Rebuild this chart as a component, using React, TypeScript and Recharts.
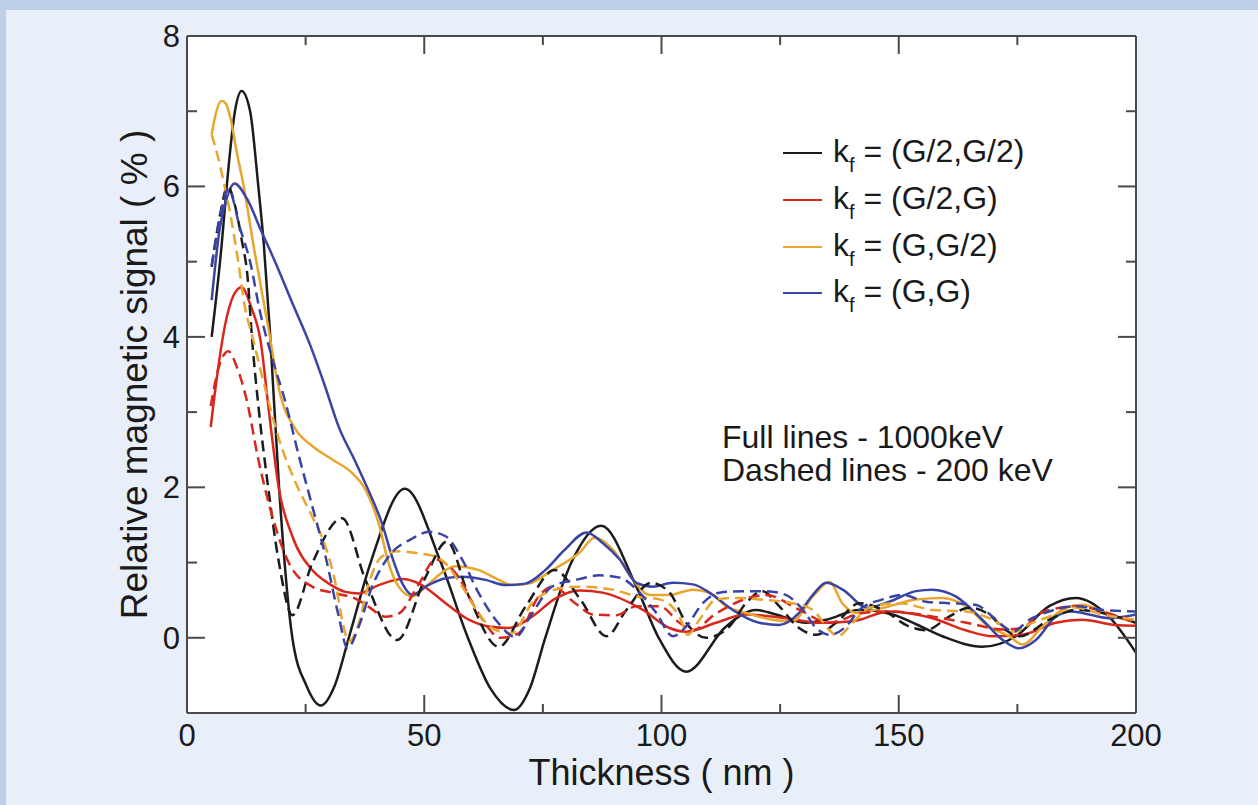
import { LineChart, Line, XAxis, YAxis, CartesianGrid, Legend } from "recharts";

// tick positions
const xTicks = [0, 25, 50, 75, 100, 125, 150, 175, 200];
const yTicks = [0, 1, 2, 3, 4, 5, 6, 7, 8];

// k_f = (G/2,G/2)
const blackFullX = [5.2, 7.3, 8.4, 10.1, 11.5, 13.3, 15.0, 16.2, 17.5, 19.4, 22.2, 25.2, 28.2, 31.1, 34.1, 38.7, 45.9, 53.5, 59.2, 64.0, 68.9, 72.2, 75.5, 81.0, 87.3, 94.7, 99.4, 105.2, 113.6, 119.9, 124.1, 130.5, 134.7, 141.7, 148.7, 154.0, 159.2, 167.6, 174.7, 181.7, 187.3, 194.3, 200];
const blackFullY = [4.0, 5.22, 6.02, 7.0, 7.27, 7.0, 6.02, 5.22, 4.05, 2.0, 0.0, -0.64, -0.9, -0.64, 0.0, 1.0, 1.98, 1.0, 0.0, -0.68, -0.96, -0.68, 0.0, 1.0, 1.49, 0.68, 0.0, -0.45, 0.15, 0.37, 0.31, 0.2, 0.24, 0.37, 0.31, 0.17, 0.02, -0.12, 0.02, 0.42, 0.53, 0.28, -0.2];
const blackDashX = [5.2, 6.9, 8.6, 10.1, 11.5, 12.9, 13.5, 15.2, 16.9, 19.4, 22.2, 26.4, 32.7, 37.6, 44.3, 50.3, 54.8, 59.4, 65.7, 71.3, 77.5, 83.0, 88.4, 92.6, 97.8, 101.7, 105.2, 109.4, 114.3, 117.8, 121.3, 124.8, 129.0, 132.6, 136.8, 141.7, 146.6, 152.2, 155.7, 160.6, 164.8, 169.0, 172.6, 175.5, 181.7, 187.3, 192.9, 200];
const blackDashY = [4.93, 5.6, 6.0, 5.75, 5.3, 4.7, 4.15, 2.99, 2.1, 0.99, 0.3, 0.99, 1.59, 0.77, -0.03, 0.81, 1.28, 0.55, -0.12, 0.41, 0.9, 0.5, 0.02, 0.37, 0.73, 0.6, 0.2, 0.0, 0.15, 0.46, 0.62, 0.42, 0.13, 0.04, 0.2, 0.46, 0.37, 0.15, 0.1, 0.28, 0.4, 0.31, 0.1, 0.02, 0.24, 0.37, 0.33, 0.2];

// k_f = (G/2,G)
const redFullX = [5.0, 6.25, 8.0, 9.8, 11.5, 13.5, 15.5, 17.3, 19.4, 22.2, 26.4, 29.9, 33.4, 36.2, 40.4, 45.4, 48.9, 54.5, 59.4, 63.6, 67.8, 72.7, 77.6, 82.7, 87.6, 96.1, 101.7, 105.2, 111.5, 117.8, 126.2, 133.3, 140.3, 148.0, 157.1, 164.1, 169.8, 176.1, 183.1, 188.7, 195.7, 200];
const redFullY = [2.8, 3.44, 4.15, 4.55, 4.66, 4.4, 3.95, 2.99, 1.97, 1.35, 0.9, 0.72, 0.61, 0.59, 0.7, 0.78, 0.72, 0.46, 0.24, 0.15, 0.13, 0.28, 0.52, 0.63, 0.6, 0.37, 0.13, 0.08, 0.2, 0.31, 0.26, 0.2, 0.22, 0.35, 0.26, 0.1, 0.02, 0.04, 0.2, 0.24, 0.17, 0.16];
const redDashX = [5.0, 6.5, 8.7, 10.5, 12.4, 15.2, 18.0, 21.5, 26.4, 31.3, 35.5, 38.3, 41.8, 44.6, 48.9, 52.4, 56.6, 61.5, 66.0, 69.9, 74.1, 77.0, 82.0, 85.5, 90.5, 94.7, 99.6, 103.8, 106.6, 111.0, 117.4, 122.0, 129.1, 135.3, 142.4, 148.6, 156.4, 164.3, 172.1, 176.0, 179.9, 187.7, 194.0, 200];
const redDashY = [3.08, 3.55, 3.81, 3.6, 3.21, 2.32, 1.61, 0.99, 0.68, 0.59, 0.52, 0.41, 0.28, 0.32, 0.72, 1.04, 0.86, 0.32, 0.0, 0.06, 0.55, 0.68, 0.45, 0.31, 0.3, 0.42, 0.42, 0.2, 0.1, 0.3, 0.51, 0.57, 0.37, 0.2, 0.33, 0.35, 0.29, 0.2, 0.11, 0.13, 0.33, 0.42, 0.33, 0.2];

// k_f = (G,G/2)
const orangeFullX = [5.2, 6.0, 7.3, 8.2, 9.2, 10.5, 11.9, 14.0, 17.2, 19.4, 22.9, 26.4, 30.6, 34.8, 37.6, 40.4, 42.5, 44.6, 47.5, 51.0, 54.5, 56.6, 61.5, 65.7, 68.5, 72.0, 77.0, 82.7, 85.9, 89.8, 94.0, 97.5, 101.7, 106.6, 110.1, 113.6, 117.8, 123.4, 127.6, 131.9, 135.4, 138.2, 141.0, 148.0, 153.6, 159.2, 164.1, 169.0, 173.3, 176.1, 180.3, 185.2, 188.7, 194.3, 200];
const orangeFullY = [6.69, 6.95, 7.14, 7.1, 6.9, 6.45, 6.02, 5.22, 4.1, 3.3, 2.77, 2.55, 2.37, 2.19, 1.97, 1.52, 0.99, 0.68, 0.55, 0.72, 0.9, 0.95, 0.9, 0.77, 0.7, 0.72, 0.9, 1.13, 1.33, 1.17, 0.77, 0.57, 0.57, 0.64, 0.6, 0.42, 0.33, 0.24, 0.22, 0.55, 0.74, 0.45, 0.33, 0.42, 0.51, 0.53, 0.42, 0.15, 0.02, -0.09, 0.15, 0.4, 0.44, 0.31, 0.2];
const orangeDashX = [5.2, 6.5, 7.6, 9.05, 10.8, 12.2, 13.8, 16.9, 19.4, 22.9, 26.4, 29.2, 31.3, 32.7, 34.1, 36.2, 38.3, 41.1, 44.6, 48.9, 52.4, 54.5, 58.0, 61.5, 64.5, 68.5, 72.7, 77.6, 82.5, 89.8, 94.7, 99.6, 103.8, 105.5, 108.0, 111.5, 115.7, 120.6, 127.6, 131.9, 135.4, 137.1, 140.3, 143.8, 150.1, 157.1, 164.1, 169.8, 174.5, 177.5, 181.7, 187.3, 192.9, 200];
const orangeDashY = [6.69, 6.4, 6.1, 5.66, 5.0, 4.4, 4.0, 3.21, 2.64, 2.06, 1.61, 1.21, 0.72, 0.24, -0.05, 0.19, 0.72, 1.08, 1.15, 1.12, 1.08, 0.99, 0.68, 0.32, 0.12, 0.06, 0.46, 0.64, 0.68, 0.64, 0.55, 0.51, 0.28, 0.04, 0.24, 0.51, 0.53, 0.51, 0.46, 0.37, 0.1, 0.02, 0.2, 0.4, 0.46, 0.37, 0.35, 0.24, 0.08, 0.18, 0.28, 0.4, 0.31, 0.24];

// k_f = (G,G)
const blueFullX = [5.2, 6.9, 8.35, 10.0, 12.6, 15.7, 18.9, 22.4, 25.9, 29.0, 32.0, 35.5, 38.3, 41.1, 43.2, 45.4, 47.5, 50.3, 54.5, 58.0, 62.9, 67.1, 71.3, 75.5, 79.6, 84.2, 87.6, 91.2, 94.7, 98.2, 102.4, 106.6, 110.8, 115.0, 120.6, 124.8, 129.0, 131.9, 134.7, 138.2, 143.3, 148.0, 153.6, 157.1, 162.0, 167.6, 171.9, 175.4, 178.9, 183.1, 186.5, 190.1, 194.3, 200];
const blueFullY = [4.49, 5.44, 5.84, 6.04, 5.84, 5.4, 4.95, 4.42, 3.9, 3.36, 2.8, 2.34, 1.95, 1.52, 1.08, 0.72, 0.57, 0.68, 0.79, 0.81, 0.77, 0.7, 0.72, 0.9, 1.17, 1.4, 1.26, 1.04, 0.73, 0.68, 0.73, 0.71, 0.57, 0.37, 0.2, 0.17, 0.33, 0.57, 0.73, 0.64, 0.4, 0.48, 0.62, 0.64, 0.55, 0.24, -0.03, -0.14, -0.03, 0.28, 0.35, 0.31, 0.26, 0.31];
const blueDashX = [5.2, 6.9, 8.7, 11.2, 13.3, 15.4, 17.8, 20.8, 23.6, 26.4, 29.2, 32.0, 33.8, 36.2, 39.0, 42.5, 47.5, 51.0, 54.5, 58.0, 61.5, 65.7, 69.2, 72.7, 76.9, 82.6, 86.9, 91.2, 95.4, 98.9, 102.4, 105.2, 108.7, 112.2, 117.1, 122.0, 126.2, 129.8, 132.6, 135.4, 138.9, 141.7, 146.6, 150.8, 155.7, 160.6, 166.2, 169.8, 172.6, 174.0, 177.5, 181.7, 187.3, 192.9, 200];
const blueDashY = [4.95, 5.57, 5.97, 5.44, 5.0, 4.33, 3.75, 3.12, 2.41, 1.75, 1.08, 0.28, -0.14, 0.15, 0.68, 1.08, 1.32, 1.41, 1.35, 1.04, 0.59, 0.19, 0.01, 0.32, 0.68, 0.78, 0.83, 0.8, 0.6, 0.33, 0.02, 0.15, 0.46, 0.6, 0.62, 0.62, 0.57, 0.37, 0.13, 0.04, 0.15, 0.37, 0.51, 0.57, 0.48, 0.46, 0.44, 0.28, 0.13, 0.08, 0.24, 0.35, 0.42, 0.37, 0.35];

const INK = "#1a1a1a";
const AXIS = "#4a4a4a";
const BLACK = "#1c1c1c";
const RED = "#d8271d";
const ORANGE = "#e9a62e";
const BLUE = "#3a44a6";
const DASH = "11 6";

const toPoints = (xs: number[], ys: number[]) => xs.map((x, i) => ({ x, y: ys[i] }));

const solidSeries = [
    { name: "(G/2,G/2)", color: BLACK, data: toPoints(blackFullX, blackFullY) },
    { name: "(G/2,G)", color: RED, data: toPoints(redFullX, redFullY) },
    { name: "(G,G/2)", color: ORANGE, data: toPoints(orangeFullX, orangeFullY) },
    { name: "(G,G)", color: BLUE, data: toPoints(blueFullX, blueFullY) },
];
const legendNames = solidSeries.map((s) => s.name);

const dashedSeries = [
    { name: "(G/2,G/2) 200 keV", color: BLACK, data: toPoints(blackDashX, blackDashY) },
    { name: "(G/2,G) 200 keV", color: RED, data: toPoints(redDashX, redDashY) },
    { name: "(G,G/2) 200 keV", color: ORANGE, data: toPoints(orangeDashX, orangeDashY) },
    { name: "(G,G) 200 keV", color: BLUE, data: toPoints(blueDashX, blueDashY) },
];

function BottomTick({ x, y, payload }: any) {
    const major = payload.value % 50 === 0;
    return (
        <g>
            <line x1={x} y1={y} x2={x} y2={y - (major ? 18 : 9)} stroke={AXIS} strokeWidth={2} />
            {major && (
                <text x={x} y={y + 33} textAnchor="middle" fontSize={31} fill={INK}>
                    {payload.value}
                </text>
            )}
        </g>
    );
}

function TopTick({ x, y, payload }: any) {
    const major = payload.value % 50 === 0;
    return <line x1={x} y1={y} x2={x} y2={y + (major ? 18 : 9)} stroke={AXIS} strokeWidth={2} />;
}

function LeftTick({ x, y, payload }: any) {
    const major = payload.value % 2 === 0;
    return (
        <g>
            <line x1={x} y1={y} x2={x + (major ? 18 : 10)} y2={y} stroke={AXIS} strokeWidth={2} />
            {major && (
                <text x={x - 7} y={y + 11} textAnchor="end" fontSize={31} fill={INK}>
                    {payload.value}
                </text>
            )}
        </g>
    );
}

function RightTick({ x, y, payload }: any) {
    const major = payload.value % 2 === 0;
    return <line x1={x} y1={y} x2={x - (major ? 18 : 10)} y2={y} stroke={AXIS} strokeWidth={2} />;
}

function LegendBox({ payload }: any) {
    // only the full-line series, in the order of the reference legend
    const rows = (payload || [])
        .filter((e: any) => legendNames.includes(e.value))
        .sort((a: any, b: any) => legendNames.indexOf(a.value) - legendNames.indexOf(b.value));
    return (
        <div style={{ fontSize: 32, color: INK, textAlign: "left" }}>
            {rows.map((entry: any) => (
                <div key={entry.value} style={{ display: "flex", alignItems: "center", justifyContent: "flex-start", height: 46.7 }}>
                    <svg width={39} height={4} style={{ display: "block" }}>
                        <line x1={0} y1={2} x2={39} y2={2} stroke={entry.color} strokeWidth={2} />
                    </svg>
                    <span style={{ marginLeft: 11, whiteSpace: "nowrap", lineHeight: "46px" }}>
                        k<span style={{ fontSize: 20, position: "relative", top: 10 }}>f</span> = {entry.value}
                    </span>
                </div>
            ))}
        </div>
    );
}

export default function App() {
    const axisLine = { stroke: AXIS, strokeWidth: 2 };
    return (
        <div
            style={{
                position: "absolute",
                left: 0,
                top: 0,
                width: 1258,
                height: 805,
                background: "#e8eff9",
                fontFamily: '"Liberation Sans", Arial, Helvetica, sans-serif',
                overflow: "hidden",
            }}
        >
            <div style={{ position: "absolute", left: 0, top: 0, width: 1258, height: 10, background: "#bccfe6" }} />
            <div style={{ position: "absolute", left: 0, top: 0, width: 6, height: 805, background: "#bccfe6" }} />
            <div style={{ position: "absolute", left: 0, top: 0 }}>
                <LineChart width={1258} height={805} margin={{ top: 35, right: 121, bottom: 0, left: 0 }}>
                    <CartesianGrid horizontal={false} vertical={false} fill="#ffffff" fillOpacity={1} />
                    <XAxis
                        dataKey="x"
                        type="number"
                        domain={[0, 200]}
                        allowDataOverflow
                        ticks={xTicks}
                        interval={0}
                        height={92}
                        tickSize={0}
                        tickMargin={0}
                        tickLine={false}
                        axisLine={axisLine}
                        tick={<BottomTick />}
                        label={{ value: "Thickness ( nm )", position: "insideBottom", offset: 20, fontSize: 36, fill: INK }}
                    />
                    <XAxis
                        xAxisId="top"
                        orientation="top"
                        dataKey="x"
                        type="number"
                        domain={[0, 200]}
                        allowDataOverflow
                        ticks={xTicks}
                        interval={0}
                        height={1}
                        tickSize={0}
                        tickMargin={0}
                        tickLine={false}
                        axisLine={axisLine}
                        tick={<TopTick />}
                    />
                    <YAxis
                        type="number"
                        domain={[-1, 8]}
                        allowDataOverflow
                        ticks={yTicks}
                        interval={0}
                        width={187}
                        tickSize={0}
                        tickMargin={0}
                        tickLine={false}
                        axisLine={axisLine}
                        tick={<LeftTick />}
                        label={{
                            value: "Relative magnetic signal ( % )",
                            angle: -90,
                            position: "insideLeft",
                            offset: 134,
                            fontSize: 37,
                            fill: INK,
                            style: { textAnchor: "middle" },
                        }}
                    />
                    <YAxis
                        yAxisId="right"
                        orientation="right"
                        type="number"
                        domain={[-1, 8]}
                        allowDataOverflow
                        ticks={yTicks}
                        interval={0}
                        width={1}
                        tickSize={0}
                        tickMargin={0}
                        tickLine={false}
                        axisLine={axisLine}
                        tick={<RightTick />}
                    />
                    <Legend
                        layout="vertical"
                        align="center"
                        verticalAlign="middle"
                        content={<LegendBox />}
                        wrapperStyle={{ left: 783, top: 130, width: 330, height: 190 }}
                    />
                    {solidSeries.map((s) => (
                        <Line
                            key={s.name}
                            data={s.data}
                            dataKey="y"
                            name={s.name}
                            type="monotone"
                            stroke={s.color}
                            strokeWidth={2.5}
                            dot={false}
                            activeDot={false}
                            legendType="line"
                            isAnimationActive={false}
                        />
                    ))}
                    {dashedSeries.map((s) => (
                        <Line
                            key={s.name}
                            data={s.data}
                            dataKey="y"
                            name={s.name}
                            type="monotone"
                            stroke={s.color}
                            strokeWidth={2.5}
                            strokeDasharray={DASH}
                            dot={false}
                            activeDot={false}
                            legendType="none"
                            isAnimationActive={false}
                        />
                    ))}
                </LineChart>
            </div>
            <div
                style={{
                    position: "absolute",
                    left: 722,
                    top: 421,
                    fontSize: 32,
                    lineHeight: "33px",
                    color: INK,
                    whiteSpace: "nowrap",
                }}
            >
                <div>Full lines - 1000keV</div>
                <div>Dashed lines - 200 keV</div>
            </div>
        </div>
    );
}
